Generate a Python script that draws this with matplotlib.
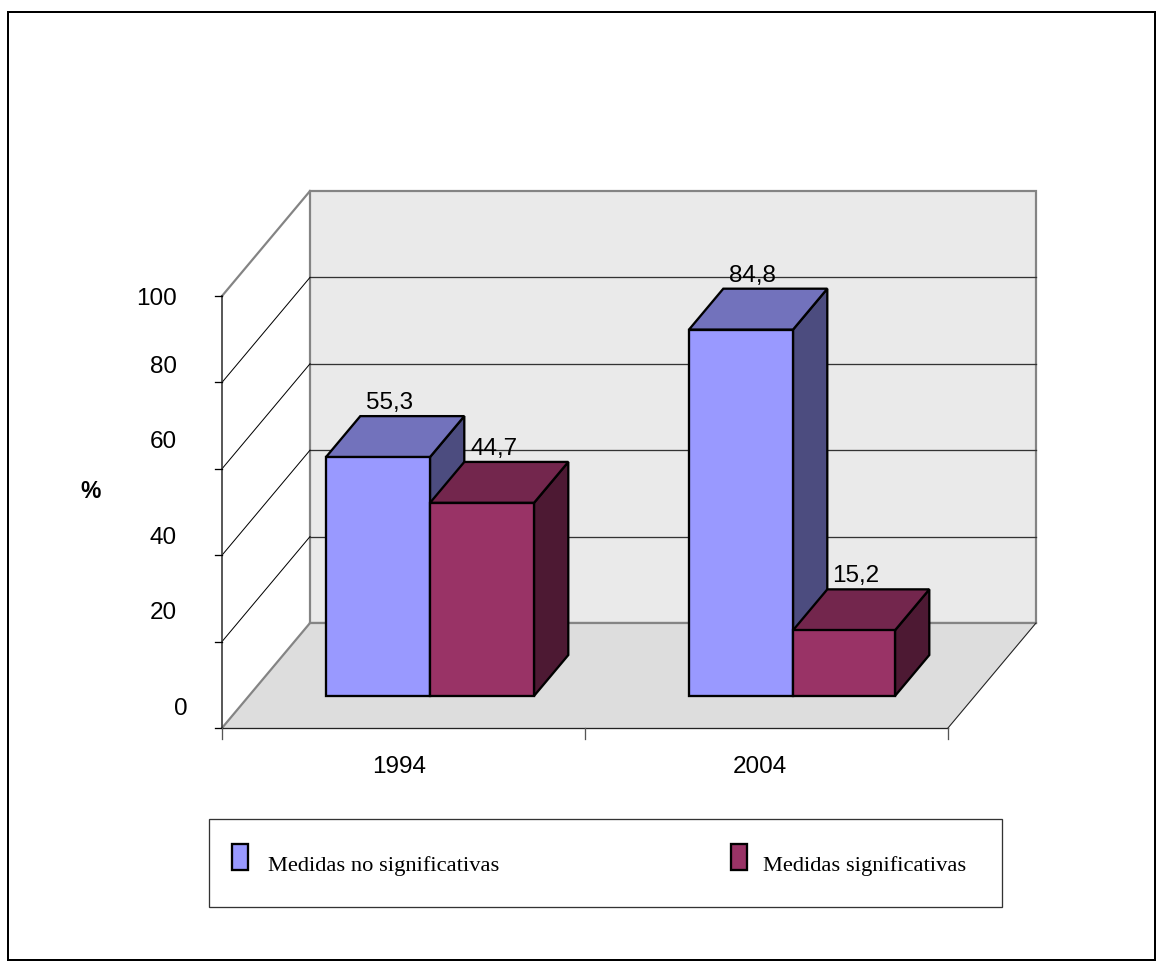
import matplotlib
matplotlib.use("Agg")
import matplotlib.pyplot as plt
from matplotlib.patches import Polygon, Rectangle

categories = ["1994", "2004"]
series_names = ["Medidas no significativas", "Medidas significativas"]
no_significativas = [55.3, 84.8]
significativas = [44.7, 15.2]
y_ticks = [0, 20, 40, 60, 80, 100]
value_labels = [["55,3", "84,8"], ["44,7", "15,2"]]

W, H = 1162, 968
X0, Y0 = 222.0, 728.0
PX_PER_CAT = 363.0
PX_PER_VAL = 4.32
DX, DY = 88.0, -105.0

SANS = "Liberation Sans"
SERIF = "Liberation Serif"
LW = 0.72


def P(x, v, d):
    """Project category x, value v, depth d to canvas position."""
    return (X0 + PX_PER_CAT * x + DX * d, Y0 - PX_PER_VAL * v + DY * d)


fig = plt.figure(figsize=(W / 100, H / 100), dpi=100, facecolor="white")
ax = fig.add_axes([0, 0, 1, 1])
ax.set_xlim(0, W)
ax.set_ylim(H, 0)
ax.axis("off")

# outer frame
ax.add_patch(Rectangle((8, 12), 1147, 948, fc="none", ec="black", lw=2 * LW, zorder=1))

XMAX = len(categories)
GREY = "#848484"
# walls and floor
ax.add_patch(Polygon([P(0, 0, 1), P(XMAX, 0, 1), P(XMAX, 100, 1), P(0, 100, 1)],
                     fc="#EAEAEA", ec=GREY, lw=2.2 * LW, zorder=2))
ax.add_patch(Polygon([P(0, 0, 0), P(XMAX, 0, 0), P(XMAX, 0, 1), P(0, 0, 1)],
                     fc="#DDDDDD", ec="none", zorder=2))
ax.plot(*zip(P(0, 0, 1), P(XMAX, 0, 1)), color=GREY, lw=2.2 * LW, zorder=3)
ax.plot(*zip(P(XMAX, 0, 0), P(XMAX, 0, 1)), color="#222222", lw=1.1 * LW, zorder=3)
ax.plot(*zip(P(0, 100, 0), P(0, 100, 1)), color=GREY, lw=2.2 * LW, zorder=3)

# gridlines
for t in y_ticks[1:-1]:
    ax.plot(*zip(P(0, t, 1), P(XMAX, t, 1)), color="#333333", lw=1.3 * LW, zorder=3)
    ax.plot(*zip(P(0, t, 0), P(0, t, 1)), color="black", lw=1 * LW, zorder=3)
ax.plot(*zip(P(0, 0, 0), P(0, 0, 1)), color=GREY, lw=2.2 * LW, zorder=3)

# axes and ticks
ax.plot(*zip(P(0, 0, 0), P(0, 100, 0)), color="#333333", lw=1.6 * LW, zorder=4)
ax.plot(*zip(P(0, 0, 0), P(XMAX, 0, 0)), color="#222222", lw=1.3 * LW, zorder=4)
for t in y_ticks:
    x, y = P(0, t, 0)
    ax.plot([x - 7, x], [y, y], color="black", lw=1.3 * LW, zorder=4)
for c in range(XMAX + 1):
    x, y = P(c, 0, 0)
    ax.plot([x, x], [y, y + 11], color="#555555", lw=1.3 * LW, zorder=4)

# y tick labels: the reference places them unevenly
label_offsets = [-19, -29, -17, -27, -15, 3]
label_right = [188, 177, 177, 177, 177, 177]
for t, off, r in zip(y_ticks, label_offsets, label_right):
    ax.text(r, P(0, t, 0)[1] + off, str(t), ha="right", va="center",
            family=SANS, fontsize=17.5, color="black", zorder=6)

ax.text(91, 491, "%", ha="center", va="center", family=SANS, fontsize=16.5,
        fontweight="bold", color="black", zorder=6)

for name, cx in zip(categories, [399, 760]):
    ax.text(cx, 767, name, ha="center", va="center", family=SANS, fontsize=17.5,
            color="black", zorder=6)

# bars
BAR_OFF = 0.2125
bar_widths = [[0.2865, 0.2865], [0.2865, 0.281]]
D0, D1 = 0.305, 0.695
FACES = [("#9999FF", "#7272BC", "#4C4C7F"), ("#993366", "#73264D", "#4D1933")]
all_series = [no_significativas, significativas]
z = 10
edge = dict(ec="black", lw=2.3 * LW, joinstyle="miter")
for i in range(len(categories)):
    x0 = i + BAR_OFF
    for j, vals in enumerate(all_series):
        v = vals[i]
        x1 = x0 + bar_widths[i][j]
        front, top, side = FACES[j]
        ax.add_patch(Polygon([P(x1, 0, D0), P(x1, v, D0), P(x1, v, D1), P(x1, 0, D1)],
                             fc=side, zorder=z, **edge))
        ax.add_patch(Polygon([P(x0, v, D0), P(x1, v, D0), P(x1, v, D1), P(x0, v, D1)],
                             fc=top, zorder=z, **edge))
        ax.add_patch(Polygon([P(x0, 0, D0), P(x1, 0, D0), P(x1, v, D0), P(x0, v, D0)],
                             fc=front, zorder=z, **edge))
        z += 1
        lx, _ = P((x0 + x1) / 2, v, (D0 + D1) / 2)
        ax.text(lx - 5.5, P(x0, v, D1)[1] - 13, value_labels[j][i], ha="center", va="center",
                family=SANS, fontsize=17.5, color="black", zorder=30)
        x0 = x1

# legend
ax.add_patch(Rectangle((209, 819), 793, 88, fc="white", ec="#333333", lw=1.3 * LW, zorder=5))
for name, sw_x, tx, (front, _, _) in zip(series_names, [232, 731], [268, 763], FACES):
    ax.add_patch(Rectangle((sw_x, 844), 16, 26, fc=front, zorder=6, **edge))
    ax.text(tx, 866.5, name, ha="left", va="center", family=SERIF, fontsize=16.2,
            color="black", zorder=6)

fig.savefig("out.png", dpi=100, facecolor="white")
